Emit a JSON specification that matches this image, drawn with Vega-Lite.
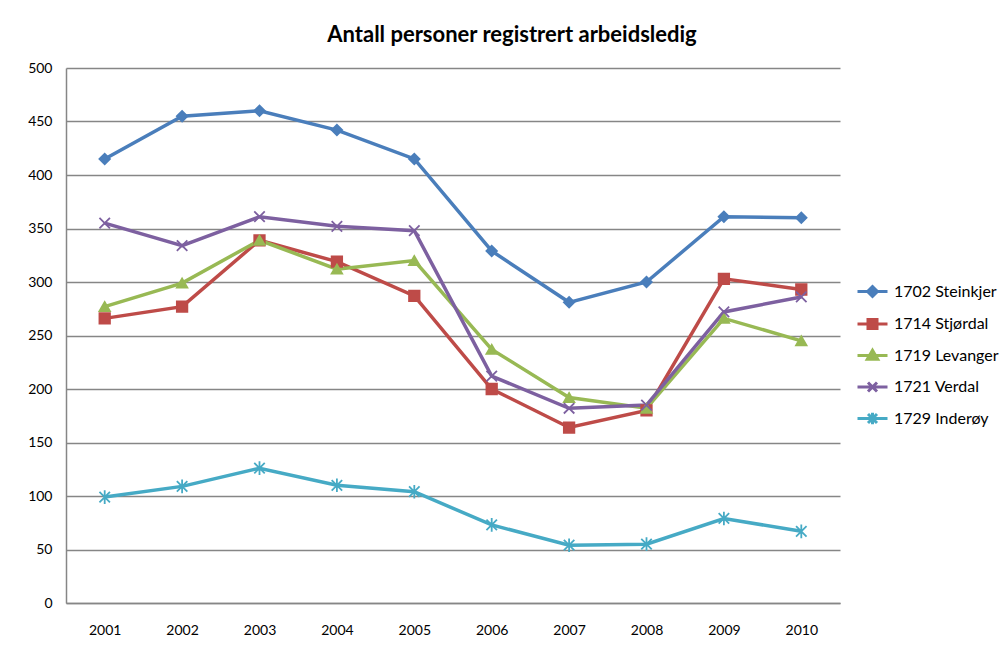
{
  "$schema": "https://vega.github.io/schema/vega-lite/v6.json",
  "autosize": "none",
  "width": 774,
  "height": 535,
  "padding": {"left": 66, "top": 68, "right": 160, "bottom": 44},
  "background": "white",
  "title": {
    "text": "Antall personer registrert arbeidsledig",
    "font": "Lato",
    "fontSize": 22,
    "fontWeight": "bold",
    "color": "#000000",
    "anchor": "middle",
    "dx": 59,
    "offset": 14
  },
  "config": {
    "view": {"stroke": null},
    "font": "Lato",
    "legend": {
      "orient": "none",
      "legendX": 790,
      "legendY": 207,
      "symbolSize": 900,
      "symbolStrokeWidth": 3,
      "labelFontSize": 16,
      "labelColor": "#000000",
      "labelOffset": 5,
      "rowPadding": 4.5,
      "labelLimit": 200
    }
  },
  "data": {
    "values": [
      {"year": "2001", "series": "1702 Steinkjer", "value": 415},
      {"year": "2002", "series": "1702 Steinkjer", "value": 455},
      {"year": "2003", "series": "1702 Steinkjer", "value": 460},
      {"year": "2004", "series": "1702 Steinkjer", "value": 442},
      {"year": "2005", "series": "1702 Steinkjer", "value": 415},
      {"year": "2006", "series": "1702 Steinkjer", "value": 329},
      {"year": "2007", "series": "1702 Steinkjer", "value": 281},
      {"year": "2008", "series": "1702 Steinkjer", "value": 300},
      {"year": "2009", "series": "1702 Steinkjer", "value": 361},
      {"year": "2010", "series": "1702 Steinkjer", "value": 360},
      {"year": "2001", "series": "1714 Stjørdal", "value": 266},
      {"year": "2002", "series": "1714 Stjørdal", "value": 277},
      {"year": "2003", "series": "1714 Stjørdal", "value": 339},
      {"year": "2004", "series": "1714 Stjørdal", "value": 319},
      {"year": "2005", "series": "1714 Stjørdal", "value": 287},
      {"year": "2006", "series": "1714 Stjørdal", "value": 200},
      {"year": "2007", "series": "1714 Stjørdal", "value": 164},
      {"year": "2008", "series": "1714 Stjørdal", "value": 180},
      {"year": "2009", "series": "1714 Stjørdal", "value": 303},
      {"year": "2010", "series": "1714 Stjørdal", "value": 293},
      {"year": "2001", "series": "1719 Levanger", "value": 277},
      {"year": "2002", "series": "1719 Levanger", "value": 299},
      {"year": "2003", "series": "1719 Levanger", "value": 339},
      {"year": "2004", "series": "1719 Levanger", "value": 312},
      {"year": "2005", "series": "1719 Levanger", "value": 320},
      {"year": "2006", "series": "1719 Levanger", "value": 237},
      {"year": "2007", "series": "1719 Levanger", "value": 192},
      {"year": "2008", "series": "1719 Levanger", "value": 182},
      {"year": "2009", "series": "1719 Levanger", "value": 266},
      {"year": "2010", "series": "1719 Levanger", "value": 245},
      {"year": "2001", "series": "1721 Verdal", "value": 355},
      {"year": "2002", "series": "1721 Verdal", "value": 334},
      {"year": "2003", "series": "1721 Verdal", "value": 361},
      {"year": "2004", "series": "1721 Verdal", "value": 352},
      {"year": "2005", "series": "1721 Verdal", "value": 348},
      {"year": "2006", "series": "1721 Verdal", "value": 212},
      {"year": "2007", "series": "1721 Verdal", "value": 182},
      {"year": "2008", "series": "1721 Verdal", "value": 185},
      {"year": "2009", "series": "1721 Verdal", "value": 272},
      {"year": "2010", "series": "1721 Verdal", "value": 286},
      {"year": "2001", "series": "1729 Inderøy", "value": 99},
      {"year": "2002", "series": "1729 Inderøy", "value": 109},
      {"year": "2003", "series": "1729 Inderøy", "value": 126},
      {"year": "2004", "series": "1729 Inderøy", "value": 110},
      {"year": "2005", "series": "1729 Inderøy", "value": 104},
      {"year": "2006", "series": "1729 Inderøy", "value": 73},
      {"year": "2007", "series": "1729 Inderøy", "value": 54},
      {"year": "2008", "series": "1729 Inderøy", "value": 55},
      {"year": "2009", "series": "1729 Inderøy", "value": 79},
      {"year": "2010", "series": "1729 Inderøy", "value": 67}
    ]
  },
  "encoding": {
    "x": {
      "field": "year",
      "type": "ordinal",
      "scale": {"type": "point", "padding": 0.5},
      "axis": {
        "title": null,
        "labelAngle": 0,
        "ticks": false,
        "labelPadding": 20,
        "labelFontSize": 14,
        "labelColor": "#000000",
        "domainColor": "#868686",
        "domainWidth": 1.5,
        "grid": false
      }
    },
    "y": {
      "field": "value",
      "type": "quantitative",
      "scale": {"domain": [0, 500], "nice": false},
      "axis": {
        "title": null,
        "values": [0, 50, 100, 150, 200, 250, 300, 350, 400, 450, 500],
        "ticks": false,
        "labelPadding": 14,
        "labelFontSize": 14,
        "labelColor": "#000000",
        "domainColor": "#868686",
        "domainWidth": 1.5,
        "grid": true,
        "gridColor": "#868686",
        "gridWidth": 1.5
      }
    }
  },
  "layer": [
    {
      "mark": {"type": "line", "strokeWidth": 3.5},
      "encoding": {
        "color": {
          "field": "series",
          "type": "nominal",
          "scale": {
            "domain": ["1702 Steinkjer", "1714 Stjørdal", "1719 Levanger", "1721 Verdal", "1729 Inderøy"],
            "range": ["#4A7EBB", "#BE4B48", "#98B954", "#7D60A0", "#46AAC5"]
          },
          "legend": {
            "title": null,
            "encode": {
              "symbols": {
                "update": {
                  "shape": {"signal": "datum.value == '1702 Steinkjer' ? 'M-1,0L1,0M-0.33,0L0,-0.33L0.33,0L0,0.33Z' : datum.value == '1714 Stjørdal' ? 'M-1,0L1,0M-0.3,-0.3L0.3,-0.3L0.3,0.3L-0.3,0.3Z' : datum.value == '1719 Levanger' ? 'M-1,0L1,0M0,-0.35L0.35,0.25L-0.35,0.25Z' : datum.value == '1721 Verdal' ? 'M-1,0L1,0M-0.3,-0.3L0.3,0.3M-0.3,0.3L0.3,-0.3' : 'M-1,0L1,0M-0.3,-0.3L0.3,0.3M-0.3,0.3L0.3,-0.3M0,-0.38L0,0.38'"}
                }
              }
            }
          }
        }
      }
    },
    {
      "mark": {"type": "point", "filled": true, "size": 110, "strokeWidth": 1.8, "opacity": 1},
      "encoding": {
        "color": {
          "field": "series",
          "type": "nominal"
        },
        "stroke": {
          "field": "series",
          "type": "nominal",
          "scale": {
            "domain": ["1702 Steinkjer", "1714 Stjørdal", "1719 Levanger", "1721 Verdal", "1729 Inderøy"],
            "range": ["#4A7EBB", "#BE4B48", "#98B954", "#7D60A0", "#46AAC5"]
          }
        },
        "shape": {
          "field": "series",
          "type": "nominal",
          "scale": {
            "domain": ["1729 Inderøy", "1721 Verdal", "1719 Levanger", "1714 Stjørdal", "1702 Steinkjer"],
            "range": ["M-1,-1L1,1M-1,1L1,-1M0,-1.3L0,1.3", "M-1,-1L1,1M-1,1L1,-1", "triangle-up", "square", "diamond"]
          },
          "legend": null
        }
      }
    }
  ]
}
